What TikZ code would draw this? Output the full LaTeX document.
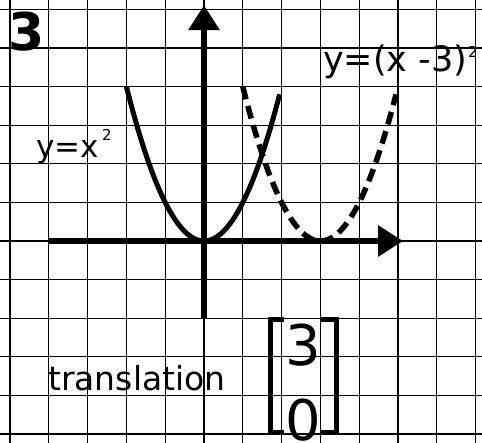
\documentclass[tikz,border=0pt]{standalone}
\usepackage{fontspec}
\setmainfont{DejaVu Sans}
\usetikzlibrary{arrows.meta}
\begin{document}
\begin{tikzpicture}[x=38.8pt,y=38.6pt,
  gridline/.style={line width=1.3pt,black},
  axis/.style={line width=6.5pt,-{Triangle[length=25pt,width=30pt]}},
  curve/.style={line width=5pt},
  dcurve/.style={line width=5.5pt,dash pattern=on 13pt off 7pt},
  lbl/.style={inner sep=0pt,anchor=base west},
  bracket/.style={line width=5pt},
  supnum/.style={inner sep=0pt,anchor=base west,font=\fontsize{15}{15}\selectfont}]
\useasboundingbox (-5.258,-5.207) rectangle (7.165,6.244);
\fill[white] (-5.258,-5.207) rectangle (7.165,6.244);
% grid
\foreach \i in {-5,...,7} \draw[gridline] (\i,-5.3) -- (\i,6.3);
\foreach \j in {-5,...,6} \draw[gridline] (-5.3,\j) -- (7.3,\j);
% axes
\coordinate (xs) at (-4,0);
\coordinate (xe) at (5.13,0);
\coordinate (ys) at (0,-2);
\coordinate (ye) at (0,6.11);
\draw[axis] (xs) -- (xe);
\draw[axis] (ys) -- (ye);
% curves
\draw[curve] plot[domain=-2:1.95,samples=80,smooth] (\x,{\x*\x});
\draw[dcurve] plot[domain=1:4.95,samples=80,smooth] (\x,{(\x-3)*(\x-3)});
% labels
\node[inner sep=0pt,font=\bfseries\fontsize{52}{52}\selectfont] (num) at (-4.575,5.427) {3};
\node[lbl,font=\fontsize{31}{36}\selectfont] (l1) at (-4.33,2.17) {y=x};
\node[supnum] (l1s) at (-2.63,2.6) {2};
\node[lbl,font=\fontsize{35}{40}\selectfont] (l2) at (3.067,4.39) {y=(x -3)};
\node[supnum] (l2s) at (6.8,4.75) {2};
\node[lbl,font=\fontsize{33}{38}\selectfont] (tr) at (-4.02,-3.86) {translation};
% matrix
\node[inner sep=0pt,anchor=north,font=\fontsize{56}{56}\selectfont] (m3) at (2.55,-2.15) {3};
\node[inner sep=0pt,anchor=north,font=\fontsize{56}{56}\selectfont] (m0) at (2.55,-4.093) {0};
\draw[bracket] (2.062,-2.021) -- (1.701,-2.021) -- (1.701,-4.948) -- (2.062,-4.948);
\draw[bracket] (3.015,-2.021) -- (3.402,-2.021) -- (3.402,-4.948) -- (3.015,-4.948);
\end{tikzpicture}
\end{document}
